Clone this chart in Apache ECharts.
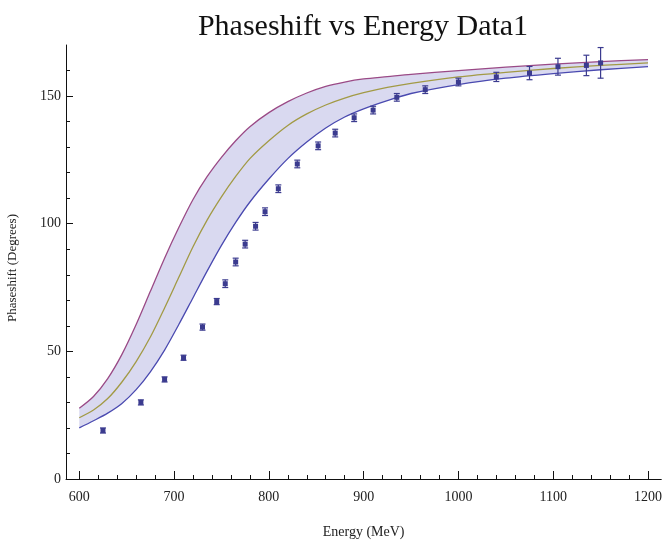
<!DOCTYPE html>
<html>
<head>
<meta charset="utf-8">
<script src="https://cdn.jsdelivr.net/npm/echarts@6/dist/echarts.min.js"></script>
<style>html,body{margin:0;padding:0;background:#fff}#c{width:665px;height:544px}</style>
</head>
<body>
<div id="c"></div>
<script>
// ---- data ----
var energy = [625, 665, 690, 710, 730, 745, 754, 765, 775, 786, 796, 810, 830, 852, 870, 890, 910, 935, 965, 1000, 1040, 1075, 1105, 1135, 1150];
var phase  = [19, 30, 39, 47.5, 59.5, 69.5, 76.5, 85, 92, 99, 104.7, 113.7, 123.4, 130.5, 135.5, 141.5, 144.5, 149.5, 152.5, 155.5, 157.5, 159, 161.5, 162, 163];
var phaseErr = [1, 1, 1, 1, 1.2, 1.2, 1.5, 1.5, 1.5, 1.5, 1.5, 1.5, 1.5, 1.5, 1.5, 1.5, 1.5, 1.5, 1.5, 1.5, 1.8, 2.6, 3.3, 4, 6];

var curveE     = [600, 615, 630, 645, 660, 675, 690, 705, 720, 735, 750, 765, 780, 800, 820, 840, 860, 880, 900, 925, 950, 1000, 1050, 1100, 1150, 1200];
var upperCurve = [27.7, 32.3, 39.3, 48.8, 60.5, 73.5, 86.5, 98.5, 109.5, 118.5, 126, 132.5, 138, 143.5, 147.8, 151.2, 153.8, 155.5, 156.7, 157.6, 158.5, 160, 161.3, 162.5, 163.5, 164.3];
var midCurve   = [24, 27, 31.5, 38, 46, 55.6, 67, 79, 91, 101.5, 110.5, 118.5, 125.5, 132.5, 138.5, 143, 146.5, 149.2, 151.3, 153.4, 155, 157.5, 159.3, 160.8, 162, 163];
var lowerCurve = [20, 22.8, 25.8, 29.6, 35, 42, 50.5, 60.5, 71, 81.5, 91.5, 100.5, 108.5, 117.5, 125.5, 132, 137.5, 141.8, 145, 148.2, 151, 154.5, 157, 158.8, 160.3, 161.5];

var xMajor = [600, 700, 800, 900, 1000, 1100, 1200];
var xMinor = [620, 640, 660, 680, 720, 740, 760, 780, 820, 840, 860, 880, 920, 940, 960, 980, 1020, 1040, 1060, 1080, 1120, 1140, 1160, 1180];
var yMajor = [0, 50, 100, 150];
var yMinor = [10, 20, 30, 40, 60, 70, 80, 90, 110, 120, 130, 140, 160];

// ---- build series data ----
function pairs(xs, ys) { return xs.map(function (x, i) { return [x, ys[i]]; }); }
var bandRows = curveE.map(function (x, i) { return [x, lowerCurve[i], upperCurve[i]]; });
var pts = energy.map(function (x, i) { return [x, phase[i], phaseErr[i]]; });

var serif = '"Liberation Serif", "DejaVu Serif", serif';
var ptColor = '#3b3b8f';

var chart = echarts.init(document.getElementById('c'), null, { renderer: 'canvas' });
chart.setOption({
  animation: false,
  backgroundColor: '#fff',
  title: {
    text: 'Phaseshift vs Energy Data1',
    left: 358, top: 7, textAlign: 'center',
    textStyle: { fontFamily: serif, fontSize: 30, fontWeight: 'normal', color: '#111' }
  },
  graphic: [{
    type: 'text', x: 13, y: 268, rotation: Math.PI / 2,
    style: { text: 'Phaseshift (Degrees)', font: '13px ' + serif, fill: '#222', textAlign: 'center', textVerticalAlign: 'middle' }
  }],
  grid: { left: 66, right: 3, top: 45, bottom: 65, containLabel: false },
  xAxis: [{
    type: 'value', min: 586, max: 1214,
    name: 'Energy (MeV)', nameLocation: 'middle', nameGap: 46,
    nameTextStyle: { fontFamily: serif, fontSize: 14, color: '#222' },
    axisLine: { show: true, lineStyle: { color: '#111', width: 1 } },
    axisTick: { show: true, inside: true, length: 8, customValues: xMajor, lineStyle: { color: '#111' } },
    axisLabel: { show: true, customValues: xMajor, margin: 11, fontFamily: serif, fontSize: 14, color: '#222',
      formatter: function (v) { return String(v); } },
    splitLine: { show: false }
  }, {
    type: 'value', min: 586, max: 1214, position: 'bottom',
    axisLine: { show: false },
    axisTick: { show: true, inside: true, length: 4, customValues: xMinor, lineStyle: { color: '#111' } },
    axisLabel: { show: false },
    splitLine: { show: false }
  }],
  yAxis: [{
    type: 'value', min: 0, max: 170,
    axisLine: { show: true, lineStyle: { color: '#111', width: 1 } },
    axisTick: { show: true, inside: true, length: 7, customValues: yMajor, lineStyle: { color: '#111' } },
    axisLabel: { show: true, customValues: yMajor, margin: 5, fontFamily: serif, fontSize: 14, color: '#222' },
    splitLine: { show: false }
  }, {
    type: 'value', min: 0, max: 170, position: 'left',
    axisLine: { show: false },
    axisTick: { show: true, inside: true, length: 4, customValues: yMinor, lineStyle: { color: '#111' } },
    axisLabel: { show: false },
    splitLine: { show: false }
  }],
  series: [{
    type: 'custom', data: bandRows, silent: true, z: 1,
    renderItem: function (params, api) {
      if (params.dataIndex !== 0) return null;
      var upper = bandRows.map(function (r) { return api.coord([r[0], r[2]]); });
      var lower = bandRows.map(function (r) { return api.coord([r[0], r[1]]); }).reverse();
      return {
        type: 'polygon',
        shape: { points: upper.concat(lower) },
        style: { fill: 'rgba(130,130,205,0.30)' }
      };
    }
  }, {
    type: 'line', data: pairs(curveE, lowerCurve), smooth: 0.3, symbol: 'none', z: 2,
    lineStyle: { color: '#4a4ab0', width: 1.3 }
  }, {
    type: 'line', data: pairs(curveE, midCurve), smooth: 0.3, symbol: 'none', z: 2,
    lineStyle: { color: '#a29a45', width: 1.3 }
  }, {
    type: 'line', data: pairs(curveE, upperCurve), smooth: 0.3, symbol: 'none', z: 2,
    lineStyle: { color: '#9a4a86', width: 1.3 }
  }, {
    type: 'custom', data: pts, z: 3,
    renderItem: function (params, api) {
      var x = api.value(0), y = api.value(1), e = api.value(2);
      var c = api.coord([x, y]);
      var top = api.coord([x, y + e]);
      var bot = api.coord([x, y - e]);
      var cap = 3;
      var st = { stroke: ptColor, lineWidth: 1.2 };
      return {
        type: 'group', children: [
          { type: 'line', shape: { x1: c[0], y1: top[1], x2: c[0], y2: bot[1] }, style: st },
          { type: 'line', shape: { x1: c[0] - cap, y1: top[1], x2: c[0] + cap, y2: top[1] }, style: st },
          { type: 'line', shape: { x1: c[0] - cap, y1: bot[1], x2: c[0] + cap, y2: bot[1] }, style: st },
          { type: 'rect', shape: { x: c[0] - 2.5, y: c[1] - 2.5, width: 5, height: 5 }, style: { fill: ptColor } }
        ]
      };
    }
  }]
});
</script>
</body>
</html>
